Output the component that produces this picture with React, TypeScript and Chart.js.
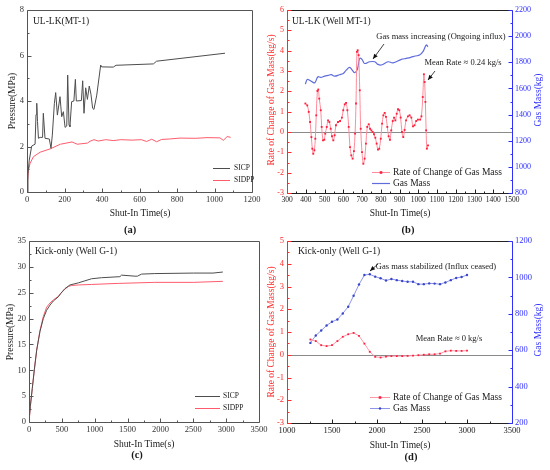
import React, { useEffect, useRef } from 'react';
import { Chart, registerables } from 'chart.js';

Chart.register(...registerables);

const SERIF = "'Liberation Serif', 'Times New Roman', Times, serif";
const W = 550;
const H = 470;

// ---------- Panel (a): UL-LK (MT-1) pressures ----------
const aSicpTime = [0, 5, 12, 25, 43, 48, 52, 56, 61, 70, 83, 87, 96, 119, 128, 135, 146, 153, 162, 176, 185, 194, 203, 212, 217, 224, 229, 238, 250, 258, 263, 290, 297, 304, 313, 322, 332, 341, 350, 357, 372, 393, 398, 460, 475, 674, 691, 1056];
const aSicp = [0, 0.8, 1.4, 2.02, 2.1, 3.4, 3.9, 3.1, 2.36, 2.4, 2.4, 3.46, 2.36, 2.33, 1.92, 2.5, 3.9, 4.37, 3.38, 4.19, 3.31, 3.53, 2.84, 2.9, 5.14, 2.95, 2.87, 3.97, 4.0, 4.95, 4.0, 4.02, 4.89, 3.46, 4.58, 4.07, 4.66, 4.3, 3.68, 3.63, 4.26, 5.58, 5.5, 5.49, 5.57, 5.63, 5.75, 6.1];
const aSidppTime = [0, 3, 8, 16, 34, 70, 125, 178, 240, 268, 322, 336, 357, 380, 420, 460, 500, 560, 610, 638, 665, 691, 718, 760, 816, 900, 960, 1029, 1047, 1068, 1086];
const aSidpp = [0, 0.5, 0.95, 1.25, 1.55, 1.75, 1.9, 2.1, 2.2, 2.1, 2.15, 2.23, 2.3, 2.24, 2.3, 2.26, 2.3, 2.28, 2.3, 2.22, 2.32, 2.21, 2.31, 2.33, 2.37, 2.36, 2.39, 2.38, 2.27, 2.44, 2.4];

// ---------- Panel (b): UL-LK (Well MT-1) gas mass ----------
const bRateTime = [398, 408, 416, 423, 430, 435, 440, 446, 451, 456, 462, 467, 472, 480, 485, 492, 499, 504, 512, 519, 526, 533, 540, 547, 554, 561, 572, 583, 593, 600, 608, 615, 622, 629, 636, 643, 650, 657, 663, 668, 673, 677, 682, 688, 693, 700, 707, 714, 721, 728, 736, 743, 750, 757, 764, 771, 778, 785, 792, 800, 807, 814, 821, 828, 835, 842, 849, 856, 864, 871, 878, 885, 892, 899, 906, 913, 920, 927, 935, 945, 954, 963, 972, 980, 989, 998, 1010, 1017, 1024, 1030, 1034, 1038, 1042, 1046, 1052];
const bRate = [1.40, 1.31, 0.99, 0.49, -0.25, -0.82, -1.07, -0.90, -0.33, 0.82, 2.02, 2.09, 1.64, 1.07, 0.25, -0.41, -0.38, -0.08, 0.25, 0.57, 0.49, 0.16, -0.21, -0.41, -0.16, 0.33, 0.49, 0.54, 0.71, 1.07, 1.36, 1.43, 1.07, 0.25, -0.74, -1.15, -1.31, -0.94, -0.08, 1.40, 3.94, 4.02, 3.78, 2.05, 0.16, -0.99, -1.56, -1.31, -0.57, 0.25, 0.38, 0.16, 0.08, 0.0, -0.11, -0.28, -0.57, -0.87, -0.82, -0.33, 0.41, 0.82, 0.94, 0.74, 0.25, -0.21, -0.38, 0.08, 0.54, 0.71, 0.57, 0.90, 1.12, 1.07, 0.71, 0.0, -0.25, 0.10, 0.57, 0.77, 0.82, 0.71, 0.28, 0.33, 0.54, 0.61, 0.61, 0.77, 1.72, 2.84, 2.46, 1.48, 0.08, -0.82, -0.66];
const bMassTime = [398, 408, 420, 435, 448, 465, 480, 501, 520, 536, 554, 580, 600, 616, 634, 648, 661, 675, 688, 700, 714, 741, 768, 785, 803, 839, 865, 910, 936, 960, 985, 1007, 1025, 1043, 1052];
const bMass = [1633, 1669, 1662, 1650, 1643, 1689, 1685, 1694, 1700, 1705, 1694, 1705, 1715, 1740, 1761, 1740, 1720, 1745, 1830, 1822, 1791, 1804, 1804, 1784, 1779, 1804, 1796, 1822, 1830, 1838, 1848, 1855, 1881, 1932, 1919];

// ---------- Panel (c): Kick-only (Well G-1) pressures ----------
const cSicpTime = [0, 20, 50, 81, 117, 167, 218, 268, 319, 370, 446, 486, 547, 623, 750, 851, 952, 1104, 1383, 1408, 1611, 1650, 1712, 1915, 2500, 2800, 2950];
const cSicp = [0, 3, 6.5, 10.1, 13.9, 17.5, 20.0, 21.6, 22.6, 23.4, 24.2, 24.9, 25.8, 26.5, 26.9, 27.3, 27.7, 27.9, 28.1, 28.4, 28.2, 28.2, 28.6, 28.7, 28.8, 28.8, 29.0];
const cSidppTime = [0, 20, 50, 81, 117, 167, 218, 268, 319, 370, 446, 486, 547, 600, 648, 750, 952, 1358, 1915, 2500, 2950];
const cSidpp = [0, 3, 6.5, 10.1, 13.9, 17.7, 20.4, 22.2, 23.0, 23.6, 24.3, 24.9, 25.7, 26.2, 26.4, 26.5, 26.6, 26.8, 27.0, 27.0, 27.2];

// ---------- Panel (d): Kick-only (Well G-1) gas mass ----------
const dTime = [1260, 1320, 1380, 1440, 1500, 1560, 1620, 1680, 1740, 1800, 1860, 1920, 1980, 2040, 2100, 2160, 2220, 2280, 2340, 2400, 2460, 2520, 2580, 2640, 2700, 2760, 2820, 2880, 2940, 3000];
const dRate = [0.67, 0.60, 0.42, 0.38, 0.42, 0.60, 0.79, 0.90, 0.96, 0.83, 0.49, 0.13, -0.09, -0.12, -0.08, -0.06, -0.06, -0.06, -0.05, -0.04, -0.02, 0.0, 0.02, 0.02, 0.05, 0.15, 0.18, 0.17, 0.17, 0.18];
const dMass = [640, 681, 708, 736, 756, 769, 802, 839, 899, 961, 1013, 1017, 1004, 995, 983, 991, 985, 980, 976, 976, 963, 963, 967, 966, 963, 972, 985, 997, 1002, 1013];

const pts = (xs: number[], ys: number[]) => xs.map((x, i) => ({ x, y: ys[i] }));

const RED_AX = '#ff2a2a';
const BLUE_AX = '#2f2fff';

type Axis = {
  id: string; pos: 'left' | 'right' | 'bottom'; min: number; max: number; step: number;
  color: string; labelColor: string; font: number; size: number;
};
type Txt = { text: string; x: number; y: number; size: number; color?: string; align?: CanvasTextAlign; rot?: number; bold?: boolean };
type Leg = { ds: number; x1: number; x2: number; y: number; tx: number; size: number };
type Arrow = { x1: number; y1: number; x2: number; y2: number };
type Spec = {
  area: { l: number; t: number; r: number; b: number };
  axes: Axis[];
  datasets: any[];
  frameColor: string;
  frameRight: boolean;
  zero?: string;
  texts: Txt[];
  legend: Leg[];
  arrows: Arrow[];
};

function makePlugin(spec: Spec) {
  return {
    id: 'decor',
    beforeDatasetsDraw(chart: any) {
      if (!spec.zero) return;
      const ctx = chart.ctx;
      const ca = chart.chartArea;
      const y = Math.round(chart.scales[spec.zero].getPixelForValue(0)) + 0.5;
      ctx.save();
      ctx.strokeStyle = '#8a8a8a';
      ctx.lineWidth = 1;
      ctx.beginPath();
      ctx.moveTo(ca.left, y);
      ctx.lineTo(ca.right, y);
      ctx.stroke();
      ctx.restore();
    },
    afterDraw(chart: any) {
      const ctx = chart.ctx;
      const ca = chart.chartArea;
      const L = Math.round(ca.left) + 0.5;
      const R = Math.round(ca.right) + 0.5;
      const T = Math.round(ca.top) + 0.5;
      const B = Math.round(ca.bottom) + 0.5;
      ctx.save();
      ctx.lineWidth = 1;
      // frame
      ctx.strokeStyle = spec.frameColor;
      ctx.beginPath();
      ctx.moveTo(L, T);
      ctx.lineTo(R, T);
      if (spec.frameRight) ctx.lineTo(R, B);
      ctx.stroke();
      // axes + ticks
      for (const a of spec.axes) {
        const sc = chart.scales[a.id];
        ctx.strokeStyle = a.color;
        ctx.beginPath();
        if (a.pos === 'bottom') { ctx.moveTo(L, B); ctx.lineTo(R, B); }
        else if (a.pos === 'left') { ctx.moveTo(L, T); ctx.lineTo(L, B); }
        else { ctx.moveTo(R, T); ctx.lineTo(R, B); }
        ctx.stroke();
        const n = Math.round((a.max - a.min) / a.step);
        const marks: { v: number; len: number }[] = [];
        for (let i = 0; i <= n; i++) {
          marks.push({ v: a.min + i * a.step, len: 4 });
          if (i < n) marks.push({ v: a.min + (i + 0.5) * a.step, len: 2 });
        }
        ctx.beginPath();
        for (const m of marks) {
          const p = Math.round(sc.getPixelForValue(m.v)) + 0.5;
          if (a.pos === 'bottom') { ctx.moveTo(p, B); ctx.lineTo(p, B - m.len); }
          else if (a.pos === 'left') { ctx.moveTo(L, p); ctx.lineTo(L + m.len, p); }
          else { ctx.moveTo(R, p); ctx.lineTo(R - m.len, p); }
        }
        ctx.stroke();
      }
      // texts
      for (const t of spec.texts) {
        ctx.save();
        ctx.font = `${t.bold ? 'bold ' : ''}${t.size}px ${SERIF}`;
        ctx.fillStyle = t.color || '#1a1a1a';
        ctx.textAlign = t.align || 'center';
        ctx.textBaseline = 'middle';
        ctx.translate(t.x, t.y);
        if (t.rot) ctx.rotate(t.rot);
        ctx.fillText(t.text, 0, 0);
        ctx.restore();
      }
      // legend
      for (const lg of spec.legend) {
        const ds = chart.data.datasets[lg.ds];
        ctx.strokeStyle = ds.borderColor;
        ctx.lineWidth = ds.borderWidth || 1;
        ctx.beginPath();
        ctx.moveTo(lg.x1, lg.y + 0.5);
        ctx.lineTo(lg.x2, lg.y + 0.5);
        ctx.stroke();
        if (ds.pointRadius > 0) {
          const cx = (lg.x1 + lg.x2) / 2;
          const r = ds.pointRadius;
          ctx.fillStyle = ds.pointBackgroundColor;
          if (ds.pointStyle === 'rect') ctx.fillRect(cx - r, lg.y + 0.5 - r, 2 * r, 2 * r);
          else { ctx.beginPath(); ctx.arc(cx, lg.y + 0.5, r, 0, Math.PI * 2); ctx.fill(); }
        }
        ctx.font = `${lg.size}px ${SERIF}`;
        ctx.fillStyle = '#1a1a1a';
        ctx.textAlign = 'left';
        ctx.textBaseline = 'middle';
        ctx.fillText(ds.label, lg.tx, lg.y);
      }
      // arrows
      for (const ar of spec.arrows) {
        ctx.strokeStyle = '#111';
        ctx.fillStyle = '#111';
        ctx.lineWidth = 0.8;
        ctx.beginPath();
        ctx.moveTo(ar.x1, ar.y1);
        ctx.lineTo(ar.x2, ar.y2);
        ctx.stroke();
        const ang = Math.atan2(ar.y2 - ar.y1, ar.x2 - ar.x1);
        const hl = 5, hw = 2.2;
        ctx.beginPath();
        ctx.moveTo(ar.x2, ar.y2);
        ctx.lineTo(ar.x2 - hl * Math.cos(ang) + hw * Math.sin(ang), ar.y2 - hl * Math.sin(ang) - hw * Math.cos(ang));
        ctx.lineTo(ar.x2 - hl * Math.cos(ang) - hw * Math.sin(ang), ar.y2 - hl * Math.sin(ang) + hw * Math.cos(ang));
        ctx.closePath();
        ctx.fill();
      }
      ctx.restore();
    },
  };
}

function buildConfig(spec: Spec): any {
  const scales: any = {};
  let lw = 0, rw = 0, bh = 0;
  for (const a of spec.axes) {
    if (a.pos === 'left') lw = a.size;
    if (a.pos === 'right') rw = a.size;
    if (a.pos === 'bottom') bh = a.size;
    scales[a.id] = {
      type: 'linear',
      position: a.pos,
      min: a.min,
      max: a.max,
      afterFit: (s: any) => { if (a.pos === 'bottom') s.height = a.size; else s.width = a.size; },
      ticks: {
        stepSize: a.step,
        color: a.labelColor,
        font: { family: SERIF, size: a.font },
        padding: 3,
        maxRotation: 0,
        minRotation: 0,
        autoSkip: false,
        callback: (v: any) => String(Math.round(v * 100) / 100),
      },
      grid: { display: false, drawTicks: false, drawOnChartArea: false },
      border: { display: false },
      title: { display: false },
    };
  }
  const { l, t, r, b } = spec.area;
  return {
    type: 'line',
    data: { datasets: spec.datasets },
    options: {
      responsive: false,
      maintainAspectRatio: false,
      animation: false,
      events: [],
      layout: { padding: { left: l - lw, right: W - r - rw, top: t, bottom: H - b - bh } },
      scales,
      plugins: { legend: { display: false }, tooltip: { enabled: false }, title: { display: false } },
    },
    plugins: [makePlugin(spec)],
  };
}

const GRAY_LINE = '#4d4d4d';
const RED_LINE = '#ff5b6c';

const specs: Spec[] = [
  {
    area: { l: 27, t: 10, r: 252, b: 192 },
    axes: [
      { id: 'x', pos: 'bottom', min: 0, max: 1200, step: 200, color: '#555', labelColor: '#333', font: 8.5, size: 20 },
      { id: 'y', pos: 'left', min: 0, max: 8, step: 2, color: '#555', labelColor: '#333', font: 8.5, size: 22 },
    ],
    datasets: [
      { label: 'SICP', data: pts(aSicpTime, aSicp), xAxisID: 'x', yAxisID: 'y', borderColor: GRAY_LINE, borderWidth: 1, pointRadius: 0, tension: 0 },
      { label: 'SIDPP', data: pts(aSidppTime, aSidpp), xAxisID: 'x', yAxisID: 'y', borderColor: RED_LINE, borderWidth: 1, pointRadius: 0, tension: 0 },
    ],
    frameColor: '#555',
    frameRight: true,
    texts: [
      { text: 'UL-LK(MT-1)', x: 33, y: 21, size: 9.5, align: 'left' },
      { text: 'Pressure(MPa)', x: 12, y: 101, size: 9.5, rot: -Math.PI / 2 },
      { text: 'Shut-In Time(s)', x: 140, y: 213, size: 9.5 },
      { text: '(a)', x: 130, y: 230, size: 10.5, bold: true },
    ],
    legend: [
      { ds: 0, x1: 213, x2: 230, y: 168, tx: 234, size: 7.5 },
      { ds: 1, x1: 213, x2: 230, y: 180, tx: 234, size: 7.5 },
    ],
    arrows: [],
  },
  {
    area: { l: 287, t: 10, r: 512, b: 193 },
    axes: [
      { id: 'x', pos: 'bottom', min: 300, max: 1500, step: 100, color: '#222', labelColor: '#222', font: 7.5, size: 20 },
      { id: 'yL', pos: 'left', min: -3, max: 6, step: 1, color: RED_AX, labelColor: RED_AX, font: 8, size: 20 },
      { id: 'yR', pos: 'right', min: 800, max: 2200, step: 200, color: BLUE_AX, labelColor: BLUE_AX, font: 8, size: 30 },
    ],
    datasets: [
      { label: 'Rate of Change of Gas Mass', data: pts(bRateTime, bRate), xAxisID: 'x', yAxisID: 'yL', borderColor: '#ff8c9c', borderWidth: 1, pointRadius: 1.3, pointStyle: 'rect', pointBackgroundColor: '#ff1f3d', pointBorderWidth: 0, tension: 0.35 },
      { label: 'Gas Mass', data: pts(bMassTime, bMass), xAxisID: 'x', yAxisID: 'yR', borderColor: '#5f6cdb', borderWidth: 1.2, pointRadius: 0, tension: 0.4 },
    ],
    frameColor: '#222',
    frameRight: false,
    zero: 'yL',
    texts: [
      { text: 'UL-LK (Well MT-1)', x: 292, y: 21, size: 9.5, align: 'left' },
      { text: 'Rate of Change of Gas Mass(kg/s)', x: 271, y: 100, size: 9.5, rot: -Math.PI / 2, color: RED_AX },
      { text: 'Gas Mass(kg)', x: 538, y: 100, size: 9.5, rot: -Math.PI / 2, color: BLUE_AX },
      { text: 'Shut-In Time(s)', x: 400, y: 213, size: 9.5 },
      { text: '(b)', x: 408, y: 230, size: 10.5, bold: true },
      { text: 'Gas mass increasing (Ongoing influx)', x: 441, y: 37, size: 8.5 },
      { text: 'Mean Rate ≈ 0.24 kg/s', x: 463, y: 63, size: 8.5 },
    ],
    legend: [
      { ds: 0, x1: 372, x2: 390, y: 172, tx: 393, size: 9.5 },
      { ds: 1, x1: 372, x2: 390, y: 183, tx: 393, size: 9.5 },
    ],
    arrows: [
      { x1: 384, y1: 44, x2: 373, y2: 59 },
      { x1: 435, y1: 71, x2: 428, y2: 80 },
    ],
  },
  {
    area: { l: 29, t: 241, r: 259, b: 422 },
    axes: [
      { id: 'x', pos: 'bottom', min: 0, max: 3500, step: 500, color: '#555', labelColor: '#333', font: 8.5, size: 20 },
      { id: 'y', pos: 'left', min: 0, max: 35, step: 5, color: '#555', labelColor: '#333', font: 8.5, size: 22 },
    ],
    datasets: [
      { label: 'SICP', data: pts(cSicpTime, cSicp), xAxisID: 'x', yAxisID: 'y', borderColor: GRAY_LINE, borderWidth: 1, pointRadius: 0, tension: 0 },
      { label: 'SIDPP', data: pts(cSidppTime, cSidpp), xAxisID: 'x', yAxisID: 'y', borderColor: RED_LINE, borderWidth: 1, pointRadius: 0, tension: 0 },
    ],
    frameColor: '#555',
    frameRight: true,
    texts: [
      { text: 'Kick-only (Well G-1)', x: 35, y: 251, size: 9.5, align: 'left' },
      { text: 'Pressure(MPa)', x: 10, y: 332, size: 9.5, rot: -Math.PI / 2 },
      { text: 'Shut-In Time(s)', x: 144, y: 444, size: 9.5 },
      { text: '(c)', x: 137, y: 455, size: 10.5, bold: true },
    ],
    legend: [
      { ds: 0, x1: 195, x2: 220, y: 396, tx: 223, size: 7.5 },
      { ds: 1, x1: 195, x2: 220, y: 408, tx: 223, size: 7.5 },
    ],
    arrows: [],
  },
  {
    area: { l: 287, t: 241, r: 512, b: 423 },
    axes: [
      { id: 'x', pos: 'bottom', min: 1000, max: 3500, step: 500, color: '#222', labelColor: '#222', font: 8.5, size: 20 },
      { id: 'yL', pos: 'left', min: -3, max: 5, step: 1, color: RED_AX, labelColor: RED_AX, font: 8.5, size: 20 },
      { id: 'yR', pos: 'right', min: 200, max: 1200, step: 200, color: BLUE_AX, labelColor: BLUE_AX, font: 8.5, size: 30 },
    ],
    datasets: [
      { label: 'Rate of Change of Gas Mass', data: pts(dTime, dRate), xAxisID: 'x', yAxisID: 'yL', borderColor: '#ff9aa8', borderWidth: 1, pointRadius: 1.3, pointStyle: 'rect', pointBackgroundColor: '#ff2244', pointBorderWidth: 0, tension: 0 },
      { label: 'Gas Mass', data: pts(dTime, dMass), xAxisID: 'x', yAxisID: 'yR', borderColor: '#8e95e8', borderWidth: 1, pointRadius: 1.2, pointStyle: 'circle', pointBackgroundColor: '#3a46c8', pointBorderWidth: 0, tension: 0 },
    ],
    frameColor: '#222',
    frameRight: false,
    zero: 'yL',
    texts: [
      { text: 'Kick-only (Well G-1)', x: 298, y: 251, size: 9.5, align: 'left' },
      { text: 'Rate of Change of Gas Mass(kg/s)', x: 271, y: 332, size: 9.5, rot: -Math.PI / 2, color: RED_AX },
      { text: 'Gas Mass(kg)', x: 538, y: 330, size: 9.5, rot: -Math.PI / 2, color: BLUE_AX },
      { text: 'Shut-In Time(s)', x: 400, y: 445, size: 9.5 },
      { text: '(d)', x: 411, y: 457, size: 10.5, bold: true },
      { text: 'Gas mass stabilized (Influx ceased)', x: 436, y: 267, size: 8.5 },
      { text: 'Mean Rate ≈ 0 kg/s', x: 449, y: 339, size: 8.5 },
    ],
    legend: [
      { ds: 0, x1: 370, x2: 390, y: 397, tx: 393, size: 9.5 },
      { ds: 1, x1: 370, x2: 390, y: 408, tx: 393, size: 9.5 },
    ],
    arrows: [
      { x1: 378, y1: 264, x2: 370, y2: 271 },
    ],
  },
];

function Panel({ spec }: { spec: Spec }) {
  const ref = useRef<HTMLCanvasElement | null>(null);
  useEffect(() => {
    if (!ref.current) return;
    const chart = new Chart(ref.current, buildConfig(spec));
    return () => chart.destroy();
  }, [spec]);
  return (
    <canvas
      ref={ref}
      width={W}
      height={H}
      style={{ position: 'absolute', left: 0, top: 0, width: W, height: H }}
    />
  );
}

export default function App() {
  return (
    <div style={{ position: 'absolute', left: 0, top: 0, width: W, height: H, background: '#ffffff', overflow: 'hidden' }}>
      {specs.map((s, i) => (
        <Panel key={i} spec={s} />
      ))}
    </div>
  );
}
